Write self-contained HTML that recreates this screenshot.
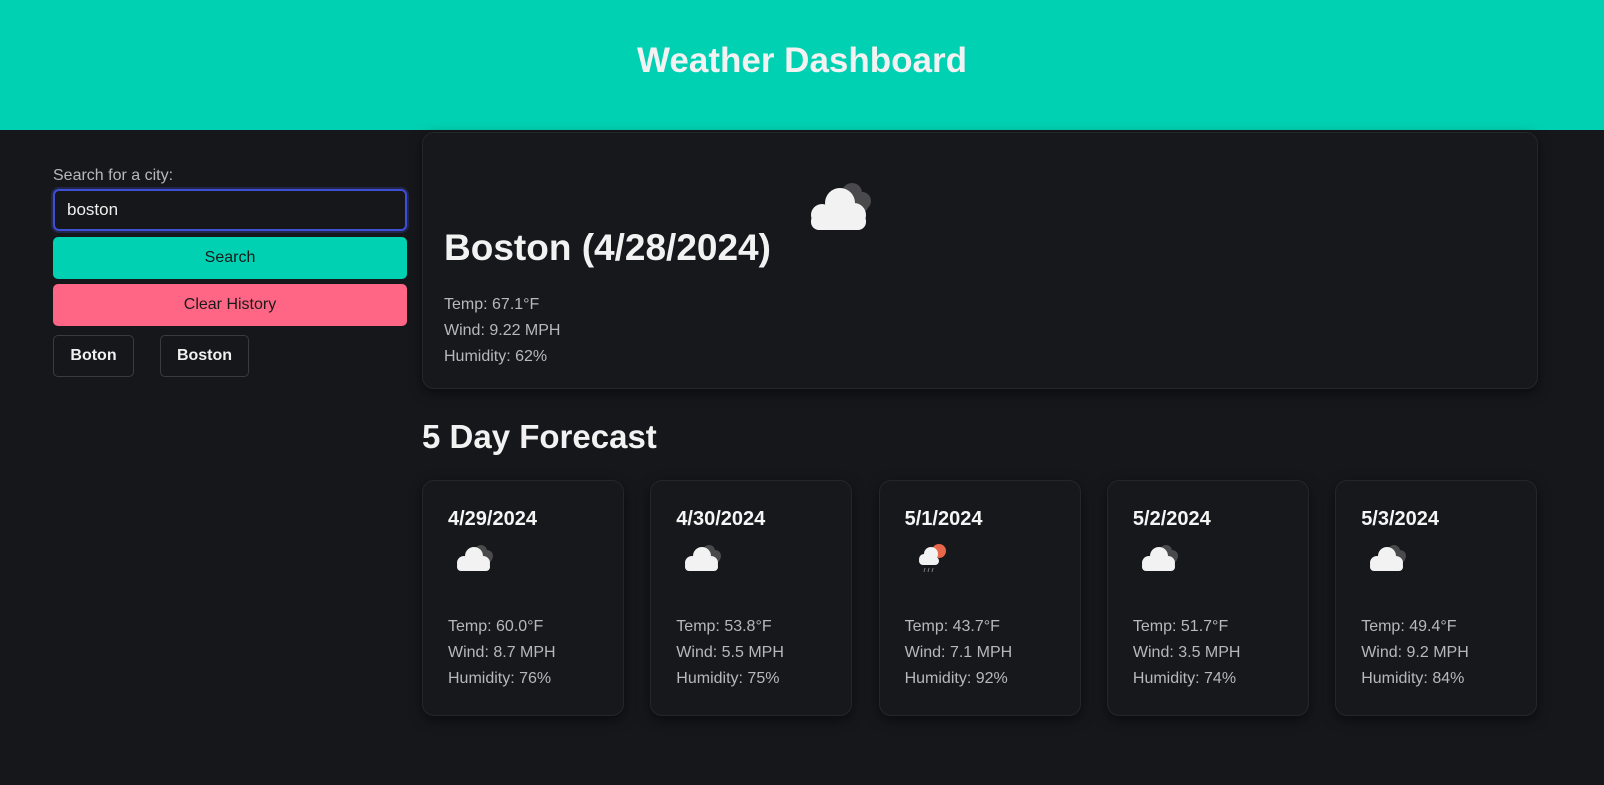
<!DOCTYPE html>
<html><head><meta charset="utf-8"><style>
*{box-sizing:border-box;margin:0;padding:0}
body{width:1604px;height:785px;background:#16171b;font-family:"Liberation Sans",sans-serif;position:relative;overflow:hidden;color:#fff}
.abs{position:absolute}
header{position:absolute;left:0;top:0;width:1604px;height:130px;background:#00d1b2}
header h1{position:absolute;width:100%;top:41px;text-align:center;font-size:35px;font-weight:bold;color:#f2f2f2}
.btn{position:absolute;border-radius:5px;font-size:16px;text-align:center;line-height:42px;color:#1a1a1a}
.hist{position:absolute;border:1px solid #3a3b40;border-radius:5px;background:#16171b;font-weight:bold;font-size:16px;text-align:center;line-height:40px;color:#f0f0f0;height:42px;top:335px}
.card{position:absolute;background:#17181c;border:1px solid #25262b;border-radius:12px;box-shadow:0 4px 12px rgba(0,0,0,.5)}
.txt{position:absolute;font-size:16px;color:#b8b8bc;line-height:26px}
.date{position:absolute;font-size:20px;font-weight:bold;color:#f5f5f5}
</style></head><body>
<header><h1>Weather Dashboard</h1></header>
<div class="abs" style="left:53px;top:167px;font-size:16px;color:#b8b8bc">Search for a city:</div>
<div class="abs" style="left:53px;top:189px;width:354px;height:42px;border:2px solid #3e4fd6;border-radius:6px;background:#16171b;box-shadow:0 0 0 2px #22264a;font-size:17px;color:#eee;padding:9px 12px">boston</div>
<div class="btn" style="left:53px;top:237px;width:354px;height:42px;background:#00d1b2">Search</div>
<div class="btn" style="left:53px;top:284px;width:354px;height:42px;background:#ff6685">Clear History</div>
<div class="hist" style="left:53px;width:81px">Boton</div>
<div class="hist" style="left:160px;width:89px">Boston</div>

<div class="card" style="left:422px;top:132px;width:1116px;height:257px">
<div class="abs" style="left:21px;top:94px;font-size:37px;font-weight:bold;color:#f2f2f2">Boston (4/28/2024)</div>
<svg class="abs" style="left:383px;top:46px" width="80" height="54" viewBox="0 0 80 54">
<g fill="#4a4a4c"><circle cx="46" cy="14" r="10"/><circle cx="56" cy="22" r="9"/><rect x="38" y="18" width="24" height="14" rx="4"/></g>
<g fill="#f2f2f2"><circle cx="34" cy="24" r="15"/><circle cx="16" cy="36" r="11"/><circle cx="48" cy="36" r="12"/><rect x="5" y="34" width="55" height="17" rx="8"/></g></svg>
<div class="txt" style="left:21px;top:159px">Temp: 67.1°F</div>
<div class="txt" style="left:21px;top:185px">Wind: 9.22 MPH</div>
<div class="txt" style="left:21px;top:211px">Humidity: 62%</div>
</div>
<div class="abs" style="left:422px;top:418px;font-size:33px;font-weight:bold;color:#f2f2f2">5 Day Forecast</div>
<div id="fc"></div>
<script>
const dates=["4/29/2024","4/30/2024","5/1/2024","5/2/2024","5/3/2024"];
const temps=["60.0","53.8","43.7","51.7","49.4"];
const winds=["8.7","5.5","7.1","3.5","9.2"];
const hums=["76","75","92","74","84"];
const icons=["cloud","cloud","rain","cloud","cloud"];
const fc=document.getElementById('fc');
dates.forEach((d,i)=>{
 const c=document.createElement('div');
 c.className='card';
 
 
 c.style.cssText=`left:${422+i*228.3}px;top:480px;width:202px;height:236px`;
 let ic;
 if(icons[i]==='rain'){
  ic=`<svg class="abs" style="left:33px;top:60px" width="44" height="34" viewBox="0 0 44 34"><circle cx="26" cy="10" r="7" fill="#e8674a"/><g fill="#f2f2f2"><circle cx="18" cy="13" r="7"/><circle cx="11" cy="18" r="5"/><rect x="6" y="16" width="20" height="8" rx="4"/></g><g stroke="#777" stroke-width="1"><line x1="12" y1="27" x2="11" y2="31"/><line x1="16" y1="27" x2="15" y2="31"/><line x1="20" y1="27" x2="19" y2="31"/></g></svg>`;
 } else {
  ic=`<svg class="abs" style="left:31px;top:62px" width="44" height="30" viewBox="0 0 44 30"><g fill="#4a4a4c"><circle cx="27" cy="8" r="6"/><circle cx="33" cy="13" r="6"/><rect x="22" y="10" width="16" height="9" rx="3"/></g><g fill="#f2f2f2"><circle cx="20" cy="13" r="9"/><circle cx="10" cy="20" r="7"/><circle cx="29" cy="20" r="7"/><rect x="3" y="19" width="33" height="9" rx="4"/></g></svg>`;
 }
 c.innerHTML=`<div class="date" style="left:25px;top:27px">${d}</div>${ic}
 <div class="txt" style="left:25px;top:133px">Temp: ${temps[i]}°F</div>
 <div class="txt" style="left:25px;top:159px">Wind: ${winds[i]} MPH</div>
 <div class="txt" style="left:25px;top:185px">Humidity: ${hums[i]}%</div>`;
 fc.appendChild(c);
});
</script>
</body></html>
